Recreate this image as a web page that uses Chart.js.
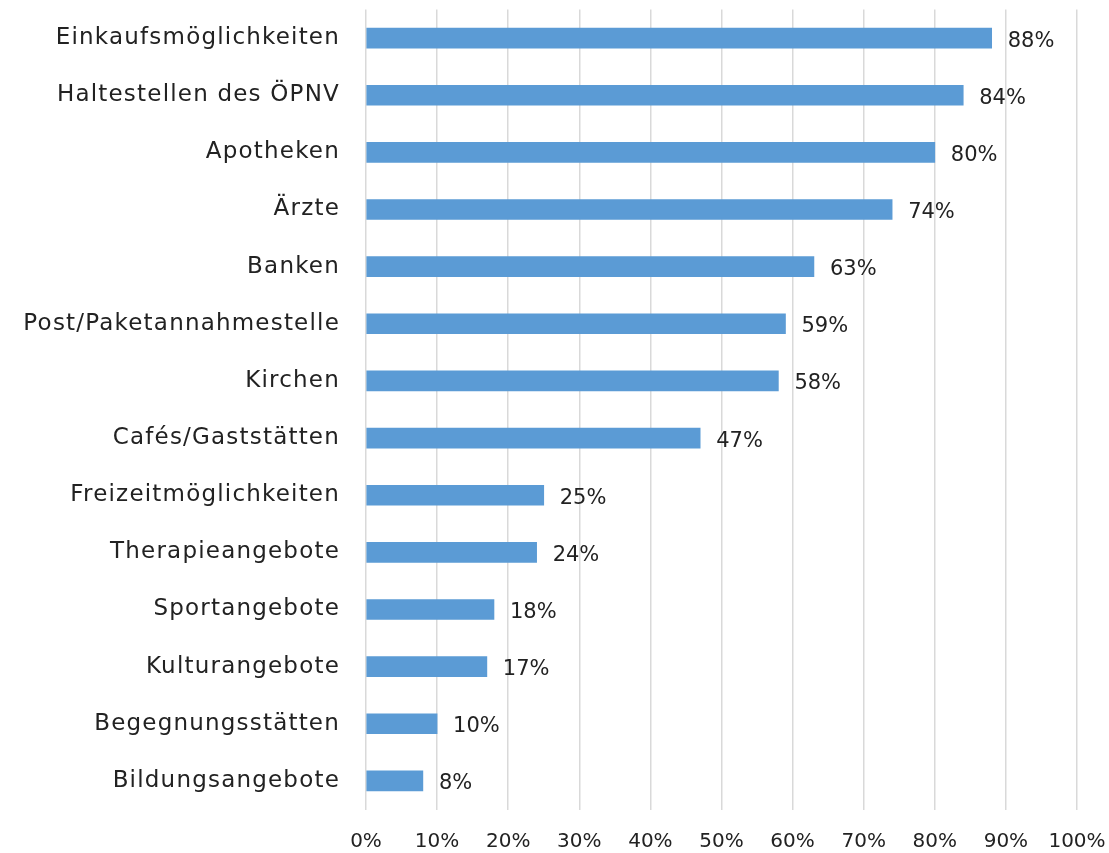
<!DOCTYPE html>
<html><head><meta charset="utf-8">
<script src="https://cdn.jsdelivr.net/npm/chart.js@4/dist/chart.umd.min.js"></script>
<style>html,body{margin:0;padding:0;background:#fff;}#wrap{width:1109px;height:853px;position:relative;}</style>
</head><body><div id="wrap"><canvas id="c" width="1109" height="853"></canvas></div>
<script>
const categories = ["Einkaufsmöglichkeiten","Haltestellen des ÖPNV","Apotheken","Ärzte","Banken","Post/Paketannahmestelle","Kirchen","Cafés/Gaststätten","Freizeitmöglichkeiten","Therapieangebote","Sportangebote","Kulturangebote","Begegnungsstätten","Bildungsangebote"];
const values = [88,84,80,74,63,59,58,47,25,24,18,17,10,8];
const tickValues = [0,10,20,30,40,50,60,70,80,90,100];

const FONT = "DejaVu Sans";
const TEXT = "#222222";

class SpacedCategory extends Chart.CategoryScale {
  drawLabels(area) {
    const ctx = this.ctx;
    ctx.save();
    ctx.letterSpacing = '1.2px';
    super.drawLabels(area);
    ctx.restore();
  }
}
SpacedCategory.id = 'spacedCategory';
SpacedCategory.defaults = Chart.CategoryScale.defaults;
Chart.register(SpacedCategory);

const labelPlugin = {
  id: 'valLabels',
  afterDatasetsDraw(chart) {
    const ctx = chart.ctx;
    const meta = chart.getDatasetMeta(0);
    ctx.save();
    ctx.letterSpacing = '0px';
    ctx.font = "21px '" + FONT + "'";
    ctx.fillStyle = TEXT;
    ctx.textAlign = 'left';
    ctx.textBaseline = 'middle';
    meta.data.forEach((bar, i) => {
      ctx.fillText(values[i] + '%', bar.x + 16, bar.y + 3);
    });
    ctx.restore();
  }
};

new Chart(document.getElementById('c'), {
  type: 'bar',
  data: { labels: categories, datasets: [{ data: values, backgroundColor: '#5B9BD5', barThickness: 20 }] },
  options: {
    indexAxis: 'y',
    responsive: false,
    animation: false,
    devicePixelRatio: 1,
    layout: { padding: { top: 9.5, right: 32, bottom: 0, left: 0 } },
    plugins: { legend: { display: false }, tooltip: { enabled: false } },
    scales: {
      x: {
        min: 0, max: 100,
        afterBuildTicks: (s) => { s.ticks = tickValues.map(v => ({ value: v })); },
        afterFit: (s) => { s.height = 43.5; s.paddingLeft = 0; s.paddingRight = 0; },
        ticks: { callback: v => v + '%', color: TEXT, font: { family: FONT, size: 20 }, padding: 20, maxRotation: 0 },
        grid: { color: '#d9d9d9', lineWidth: 1.5, drawTicks: false },
        border: { display: false }
      },
      y: {
        type: 'spacedCategory',
        afterFit: (s) => { s.width = 366; s.paddingTop = 0; s.paddingBottom = 0; },
        ticks: { color: TEXT, font: { family: FONT, size: 23 }, padding: 26 },
        grid: { display: false, drawTicks: false },
        border: { display: false }
      }
    }
  },
  plugins: [labelPlugin]
});
</script></body></html>
